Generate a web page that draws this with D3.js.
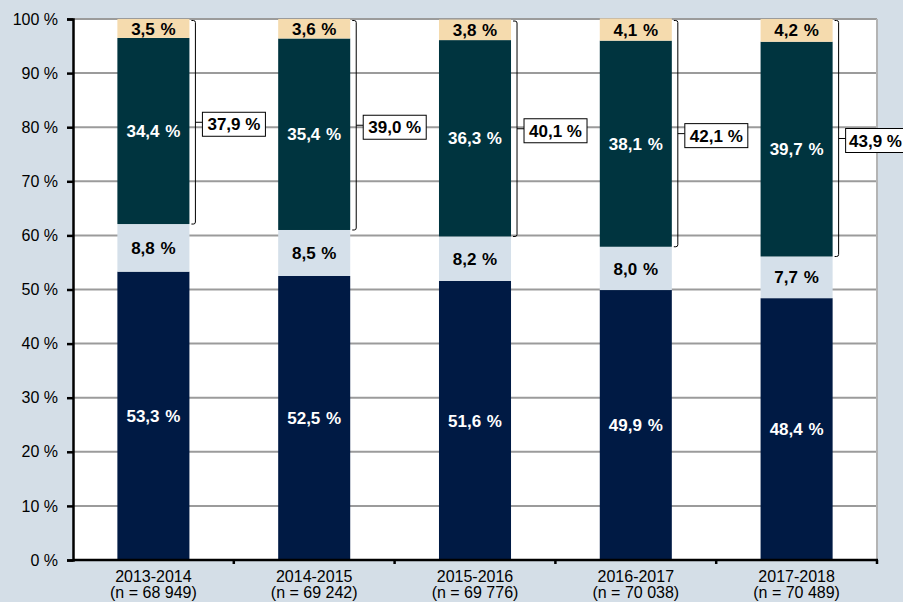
<!DOCTYPE html>
<html>
<head>
<meta charset="utf-8">
<script src="https://d3js.org/d3.v7.min.js"></script>
<style>
  body { margin: 0; background: #d4dee7; }
  svg { display: block; font-family: "Liberation Sans", Arial, sans-serif; }
</style>
</head>
<body>
<script>
  // data
  var years = ["2013-2014", "2014-2015", "2015-2016", "2016-2017", "2017-2018"];
  var nLabels = ["(n = 68 949)", "(n = 69 242)", "(n = 69 776)", "(n = 70 038)", "(n = 70 489)"];
  var s1 = [53.3, 52.5, 51.6, 49.9, 48.4];
  var s2 = [8.8, 8.5, 8.2, 8.0, 7.7];
  var s3 = [34.4, 35.4, 36.3, 38.1, 39.7];
  var s4 = [3.5, 3.6, 3.8, 4.1, 4.2];
  var totals = [37.9, 39.0, 40.1, 42.1, 43.9];
  var yTicks = [0, 10, 20, 30, 40, 50, 60, 70, 80, 90, 100];

  var width = 903, height = 602;
  var plotLeft = 73, plotRight = 877, plotTop = 19, plotBottom = 560;

  var colors = ["#001a44", "#d5e0ea", "#00343f", "#f5dbae"];
  var textColors = ["#fff", "#000", "#fff", "#000"];

  var fmt = function (v) { return d3.format(".1f")(v).replace(".", ",") + " %"; };

  var rows = years.map(function (yr, i) {
    return { year: yr, n: nLabels[i], v: [s1[i], s2[i], s3[i], s4[i]], total: totals[i] };
  });

  var x = d3.scaleBand()
    .domain(years)
    .range([plotLeft, plotRight])
    .paddingInner(0.552)
    .paddingOuter(0.276);

  var y = d3.scaleLinear()
    .domain([0, 100])
    .range([plotBottom, plotTop]);

  var svg = d3.select("body").append("svg")
    .attr("width", width)
    .attr("height", height);

  // plot area
  svg.append("rect")
    .attr("x", plotLeft).attr("y", plotTop)
    .attr("width", plotRight - plotLeft).attr("height", plotBottom - plotTop)
    .attr("fill", "#fff");

  // gridlines
  svg.selectAll("line.grid")
    .data(yTicks.filter(function (t) { return t > 0; }))
    .enter().append("line")
    .attr("class", "grid")
    .attr("x1", plotLeft).attr("x2", plotRight)
    .attr("y1", function (d) { return y(d); })
    .attr("y2", function (d) { return y(d); })
    .attr("stroke", "#9b9b9b")
    .attr("stroke-width", 2);

  svg.append("line")
    .attr("x1", plotRight).attr("x2", plotRight)
    .attr("y1", plotTop).attr("y2", plotBottom)
    .attr("stroke", "#b4b4b4")
    .attr("stroke-width", 2);

  // stacked bars
  var bars = svg.selectAll("g.bar")
    .data(rows)
    .enter().append("g")
    .attr("class", "bar");

  bars.each(function (d) {
    var g = d3.select(this);
    var base = 0;
    d.v.forEach(function (v, k) {
      var y0 = base, y1 = base + v;
      base = y1;
      g.append("rect")
        .attr("x", x(d.year))
        .attr("width", x.bandwidth())
        .attr("y", y(y1))
        .attr("height", y(y0) - y(y1))
        .attr("fill", colors[k]);
      g.append("text")
        .attr("x", x(d.year) + x.bandwidth() / 2)
        .attr("y", y((y0 + y1) / 2))
        .attr("dy", "0.36em")
        .attr("text-anchor", "middle")
        .attr("font-size", 17)
        .attr("font-weight", "bold")
        .style("word-spacing", "1px")
        .attr("fill", textColors[k])
        .text(fmt(v));
    });

    // bracket around the 3rd + 4th segments
    var topV = d.v[0] + d.v[1] + d.v[2] + d.v[3];
    var lowV = d.v[0] + d.v[1];
    var bx0 = x(d.year) + x.bandwidth() + 2;
    var bx = x(d.year) + x.bandwidth() + 6;
    var yt = y(Math.min(topV, 100)) + 1.5, yb = y(lowV);
    var ym = (yt + yb) / 2;
    g.append("path")
      .attr("d", "M" + bx0 + "," + yt + " L" + (bx - 2) + "," + yt + " Q" + bx + "," + yt + " " + bx + "," + (yt + 2) +
                 " L" + bx + "," + (yb - 2) + " Q" + bx + "," + yb + " " + (bx - 2) + "," + yb + " L" + bx0 + "," + yb)
      .attr("fill", "none")
      .attr("stroke", "#000")
      .attr("stroke-width", 1);
    g.append("line")
      .attr("x1", bx).attr("x2", bx + 7)
      .attr("y1", ym).attr("y2", ym)
      .attr("stroke", "#000")
      .attr("stroke-width", 1);
    var boxH = 24, boxW = 63, cy = ym + 2;
    g.append("rect")
      .attr("x", bx + 7).attr("y", cy - boxH / 2)
      .attr("width", boxW).attr("height", boxH)
      .attr("fill", "#fff")
      .attr("stroke", "#000")
      .attr("stroke-width", 1);
    var t = g.append("text")
      .attr("x", bx + 7 + boxW / 2)
      .attr("y", cy)
      .attr("dy", "0.36em")
      .attr("text-anchor", "middle")
      .attr("font-size", 17)
      .attr("font-weight", "bold")
      .attr("fill", "#000")
      .text(fmt(d.total));
    // keep the last label inside the picture
    var tw = t.node().getComputedTextLength();
    t.attr("x", Math.min(bx + 7 + boxW / 2, width - 1 - tw / 2));
  });

  // y axis
  var yAxis = d3.axisLeft(y)
    .tickValues(yTicks)
    .tickSize(6)
    .tickPadding(9)
    .tickFormat(function (d) { return d + " %"; });

  var ya = svg.append("g")
    .attr("transform", "translate(" + plotLeft + ",0)")
    .call(yAxis);
  ya.select(".domain").attr("stroke", "#000").attr("stroke-width", 2.5);
  ya.selectAll(".tick line").attr("stroke", "#000").attr("stroke-width", 2.5);
  ya.selectAll(".tick text")
    .attr("font-size", 16)
    .attr("font-family", "'Liberation Sans', Arial, sans-serif")
    .attr("fill", "#000");

  // x axis
  var xa = svg.append("g");
  xa.append("line")
    .attr("x1", plotLeft).attr("x2", plotRight + 1)
    .attr("y1", plotBottom).attr("y2", plotBottom)
    .attr("stroke", "#000").attr("stroke-width", 2.5);
  var bounds = years.map(function (yr) { return x(yr) - x.step() * x.paddingInner() / 2; });
  bounds.push(plotRight);
  xa.selectAll("line.xt")
    .data(bounds.slice(1))
    .enter().append("line")
    .attr("class", "xt")
    .attr("x1", function (d) { return d; })
    .attr("x2", function (d) { return d; })
    .attr("y1", plotBottom).attr("y2", plotBottom + 4)
    .attr("stroke", "#000").attr("stroke-width", 2.5);

  var xl = xa.selectAll("text.xl")
    .data(rows)
    .enter().append("text")
    .attr("class", "xl")
    .attr("text-anchor", "middle")
    .attr("font-size", 16)
    .attr("fill", "#000");
  xl.append("tspan")
    .attr("x", function (d) { return x(d.year) + x.bandwidth() / 2; })
    .attr("y", 582)
    .text(function (d) { return d.year; });
  xl.append("tspan")
    .attr("x", function (d) { return x(d.year) + x.bandwidth() / 2; })
    .attr("y", 598)
    .text(function (d) { return d.n; });
</script>
</body>
</html>
